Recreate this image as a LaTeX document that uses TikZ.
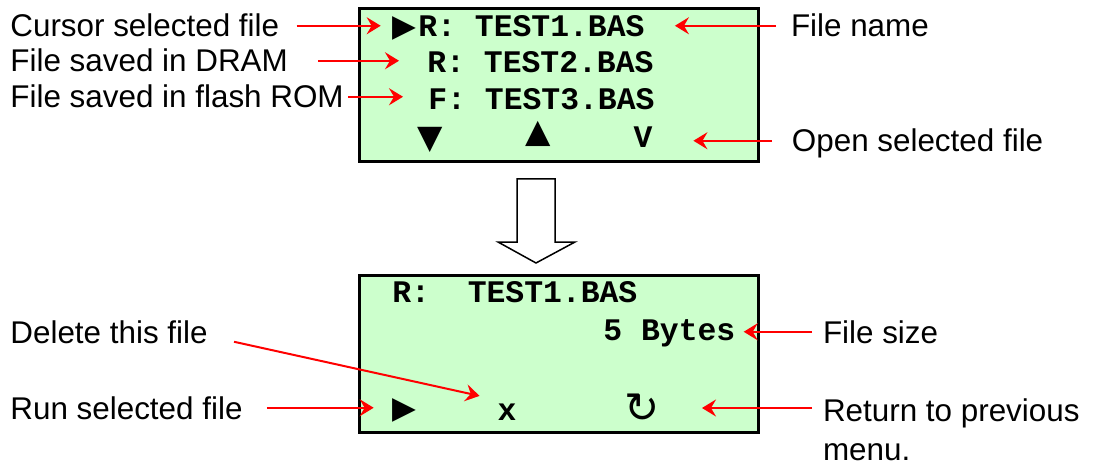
\documentclass[tikz,border=0pt]{standalone}
\usepackage{fontspec}
\setmainfont{Liberation Sans}
\setmonofont{Liberation Mono}
\newfontfamily\symfont{DejaVu Sans}
\usetikzlibrary{positioning,arrows.meta}
\definecolor{lcdgreen}{HTML}{CCFFCC}
\newcommand{\lcdfont}{\fontsize{15.7}{18}\selectfont\ttfamily\bfseries}
\newcommand{\lblfont}{\fontsize{15.7}{19.5}\selectfont}

\begin{document}
\begin{tikzpicture}[x=0.5pt, y=-0.5pt,
  lcd/.style={draw, line width=1.5pt, fill=lcdgreen, anchor=north west,
              minimum width=199.5pt, inner sep=0pt},
  scr/.style={font=\lcdfont, inner sep=0pt, anchor=base west},
  sym/.style={font=\symfont\fontsize{15.5}{17}\selectfont, inner sep=0pt},
  lbl/.style={font=\lblfont, inner sep=0pt, anchor=base west,
              text height=11.24pt, text depth=0pt},
  arr/.style={-{Stealth[length=7pt, width=8.5pt, inset=2.5pt]}, red, line width=1pt}]
\useasboundingbox (0,0) rectangle (1093,465);
% the two screens and the step between them
\node[lcd, minimum height=76.75pt] (menu) at (358,7) {};
\node[lcd, minimum height=78.5pt] (info) at (358,274) {};
\draw[line width=0.75pt, fill=white] (517,179) -- (555,179) -- (555,242) -- (575,242)
  -- (536,263) -- (498,242) -- (517,242) -- cycle;
% file list
\node[sym] (cur) at (404,28) {▶};
\node[scr] (f1) at (418,37) {R: TEST1.BAS};
\node[scr] (f2) at (427,73) {R: TEST2.BAS};
\node[scr] (f3) at (428,110) {F: TEST3.BAS};
\node[sym, font=\symfont\fontsize{16.5}{18}\selectfont] (dn) at (430,140) {▼};
\node[sym, font=\symfont\fontsize{16.5}{18}\selectfont] (up) at (538,134) {▲};
\node[scr, anchor=base] (open) at (643,148) {V};
% file info
\node[scr] (name) at (392,302) {R:~~TEST1.BAS};
\node[scr] (size) at (603,340) {5 Bytes};
\node[sym] (run) at (404,410) {▶};
\node[scr, anchor=base] (del) at (507,420) {x};
\node[sym, font=\symfont\fontsize{21}{23}\selectfont] (back) at (642,408) {↻};
% labels
\node[lbl] (lcur) at (10,37) {Cursor selected file};
\node[lbl] (ldram) at (10,72) {File saved in DRAM};
\node[lbl] (lflash) at (10,108) {File saved in flash ROM};
\node[lbl] (lname) at (790.6,37) {File name};
\node[lbl] (lopen) at (791.5,152) {Open selected file};
\node[lbl] (ldel) at (10,343) {Delete this file};
\node[lbl] (lrun) at (10,419) {Run selected file};
\node[lbl] (lsize) at (822.6,343) {File size};
\node[font=\lblfont, inner sep=0pt, align=left, anchor=north west] (lret) at (822.6,398)
  {Return to previous\\menu.};
\draw[arr, shorten <=8.5pt, shorten >=5.5pt] (lcur.east) -- (lcur.east -| cur.west);
\draw[arr, shorten <=15pt, shorten >=14pt] (ldram.east) -- (ldram.east -| f2.west);
\draw[arr, shorten <=2pt, shorten >=12.5pt] (lflash.east) -- (lflash.east -| f3.west);
\draw[arr, shorten <=7.3pt, shorten >=15pt] (lname.west) -- (lname.west -| f1.east);
\draw[arr, shorten <=9.75pt, shorten >=20.3pt] (lopen.west) -- (lopen.west -| open.east);
\draw[arr, shorten <=5.3pt, shorten >=4pt] (lsize.west) -- (lsize.west -| size.east);
\draw[arr, shorten <=5.3pt, shorten >=21pt] (lret.west |- back) -- (back.east);
\draw[arr, shorten <=12pt, shorten >=9pt] (lrun.east) -- (lrun.east -| run.west);
\draw[arr] ([xshift=13pt,yshift=-5pt]ldel.east) -- ([xshift=-8.8pt,yshift=7.9pt]del.west);
\end{tikzpicture}
\end{document}
